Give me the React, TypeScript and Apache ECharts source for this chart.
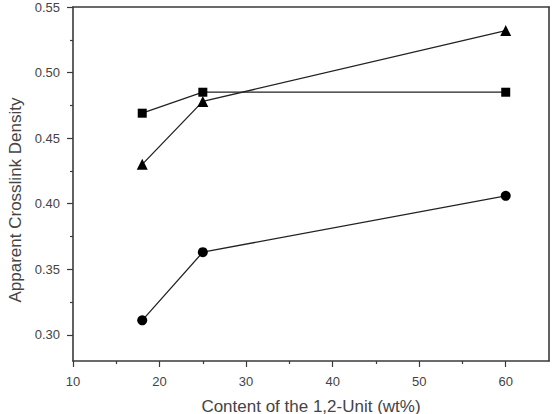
import React, { useEffect, useRef } from "react";
import * as echarts from "echarts";

// 1,2-unit content (wt%)
const contents = [18, 25, 60];
// Apparent crosslink density for the three sample sets
const squareSeries = [0.469, 0.485, 0.485];
const triangleSeries = [0.43, 0.478, 0.532];
const circleSeries = [0.311, 0.363, 0.406];

const xMajorTicks = [10, 20, 30, 40, 50, 60];
const xMinorTicks = [15, 25, 35, 45, 55];
const yMajorTicks = [0.3, 0.35, 0.4, 0.45, 0.5, 0.55];
const yMinorTicks = [0.325, 0.375, 0.425, 0.475, 0.525];

const xTitle = "Content of the 1,2-Unit (wt%)";
const yTitle = "Apparent Crosslink Density";

const FONT = "'Liberation Sans', Arial, sans-serif";
const AXIS_COLOR = "#3a3a3a";
const TEXT_COLOR = "#444";
const LINE_COLOR = "#222";

export default function App() {
  const ref = useRef<HTMLDivElement>(null);

  useEffect(() => {
    if (!ref.current) return;
    const chart = echarts.init(ref.current, null, { renderer: "svg" });

    const xBase = { type: "value", min: 10, max: 65 };
    const yBase = { type: "value", min: 0.28, max: 0.55 };
    const frameLine = { show: true, lineStyle: { color: AXIS_COLOR, width: 1.6 } };
    const hidden = {
      axisTick: { show: false },
      axisLabel: { show: false },
      splitLine: { show: false },
    };

    const lineSeries = (data: number[], symbol: string, size: number) => ({
      type: "line",
      data: contents.map((c, i) => [c, data[i]]),
      symbol,
      symbolSize: size,
      lineStyle: { color: LINE_COLOR, width: 1.3 },
      itemStyle: { color: "#000" },
      xAxisIndex: 0,
      yAxisIndex: 0,
    });

    chart.setOption({
      animation: false,
      backgroundColor: "#fff",
      grid: { left: 73, top: 7, right: 5, bottom: 53 },
      xAxis: [
        {
          ...xBase,
          position: "bottom",
          axisLine: frameLine,
          axisTick: {
            show: true,
            length: 6,
            customValues: xMajorTicks,
            lineStyle: { color: AXIS_COLOR, width: 1.2 },
          },
          axisLabel: {
            customValues: xMajorTicks,
            margin: 14,
            color: TEXT_COLOR,
            fontSize: 13,
            fontFamily: FONT,
          },
          splitLine: { show: false },
        },
        {
          ...xBase,
          position: "bottom",
          axisLine: { show: false },
          axisTick: {
            show: true,
            length: 3,
            customValues: xMinorTicks,
            lineStyle: { color: AXIS_COLOR, width: 1.2 },
          },
          axisLabel: { show: false },
          splitLine: { show: false },
        },
        // top edge of the frame
        { ...xBase, position: "top", axisLine: frameLine, ...hidden },
      ],
      yAxis: [
        {
          ...yBase,
          position: "left",
          axisLine: frameLine,
          axisTick: {
            show: true,
            length: 6,
            customValues: yMajorTicks,
            lineStyle: { color: AXIS_COLOR, width: 1.2 },
          },
          axisLabel: {
            customValues: yMajorTicks,
            margin: 13,
            color: TEXT_COLOR,
            fontSize: 13,
            fontFamily: FONT,
            formatter: (v: number) => v.toFixed(2),
          },
          splitLine: { show: false },
        },
        {
          ...yBase,
          position: "left",
          axisLine: { show: false },
          axisTick: {
            show: true,
            length: 3,
            customValues: yMinorTicks,
            lineStyle: { color: AXIS_COLOR, width: 1.2 },
          },
          axisLabel: { show: false },
          splitLine: { show: false },
        },
        // right edge of the frame
        { ...yBase, position: "right", axisLine: frameLine, ...hidden },
      ],
      graphic: [
        {
          type: "text",
          x: 311,
          y: 406,
          style: {
            text: xTitle,
            fill: TEXT_COLOR,
            font: `17px ${FONT}`,
            textAlign: "center",
            textVerticalAlign: "middle",
          },
        },
        {
          type: "text",
          x: 15,
          y: 200,
          rotation: Math.PI / 2,
          style: {
            text: yTitle,
            fill: TEXT_COLOR,
            font: `17px ${FONT}`,
            textAlign: "center",
            textVerticalAlign: "middle",
          },
        },
      ],
      series: [
        lineSeries(squareSeries, "rect", 9),
        lineSeries(triangleSeries, "triangle", 11),
        lineSeries(circleSeries, "circle", 10),
      ],
    });

    return () => chart.dispose();
  }, []);

  return (
    <div
      ref={ref}
      style={{ position: "fixed", left: 0, top: 0, width: 554, height: 414 }}
    />
  );
}
